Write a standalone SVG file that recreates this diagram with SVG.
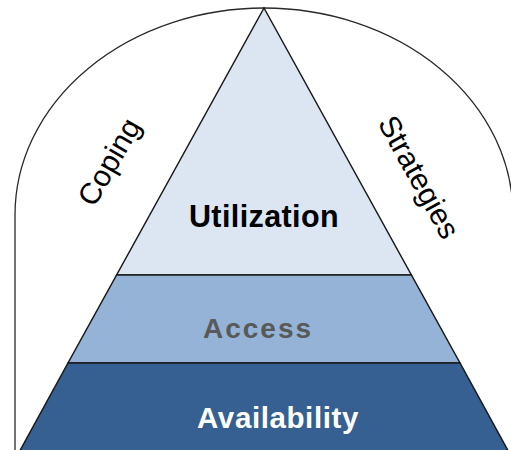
<svg xmlns="http://www.w3.org/2000/svg" width="511" height="450" viewBox="0 0 511 450">
  <style>
    .band { stroke: #1a1a1a; stroke-width: 1.5; stroke-linejoin: miter; }
    .lbl { font-family: "Liberation Sans", Arial, sans-serif; font-weight: bold; text-anchor: middle; }
    .side { font-family: "Liberation Sans", Arial, sans-serif; font-size: 30px; fill: #000; text-anchor: middle; }
  </style>
  <rect width="511" height="450" fill="#ffffff"/>

  <!-- arch enclosing the pyramid -->
  <g id="coping-arch">
    <path d="M 15 451 V 215 A 249 207 0 0 1 513 215 V 451" fill="none" stroke="#2a2a2a" stroke-width="1.3"/>
    <text class="side" transform="translate(118 167) rotate(-60)">Coping</text>
    <text class="side" transform="translate(410 182) rotate(61)">Strategies</text>
  </g>

  <!-- pyramid tiers -->
  <g id="utilization">
    <polygon class="band" points="264,8 411.4,275 116.6,275" fill="#dce6f2"/>
    <text class="lbl" x="264" y="227" font-size="30.5" fill="#000000" letter-spacing="0.4">Utilization</text>
  </g>
  <g id="access">
    <polygon class="band" points="116.6,275 411.4,275 460,363 68,363" fill="#95b3d7"/>
    <text class="lbl" x="258" y="338" font-size="28" fill="#595959" letter-spacing="2">Access</text>
  </g>
  <g id="availability">
    <polygon class="band" points="68,363 460,363 508.8,452 19.2,452" fill="#366092"/>
    <text class="lbl" x="278" y="428" font-size="29.5" fill="#ffffff" letter-spacing="0.6">Availability</text>
  </g>

  <g id="connectors"/>
</svg>
